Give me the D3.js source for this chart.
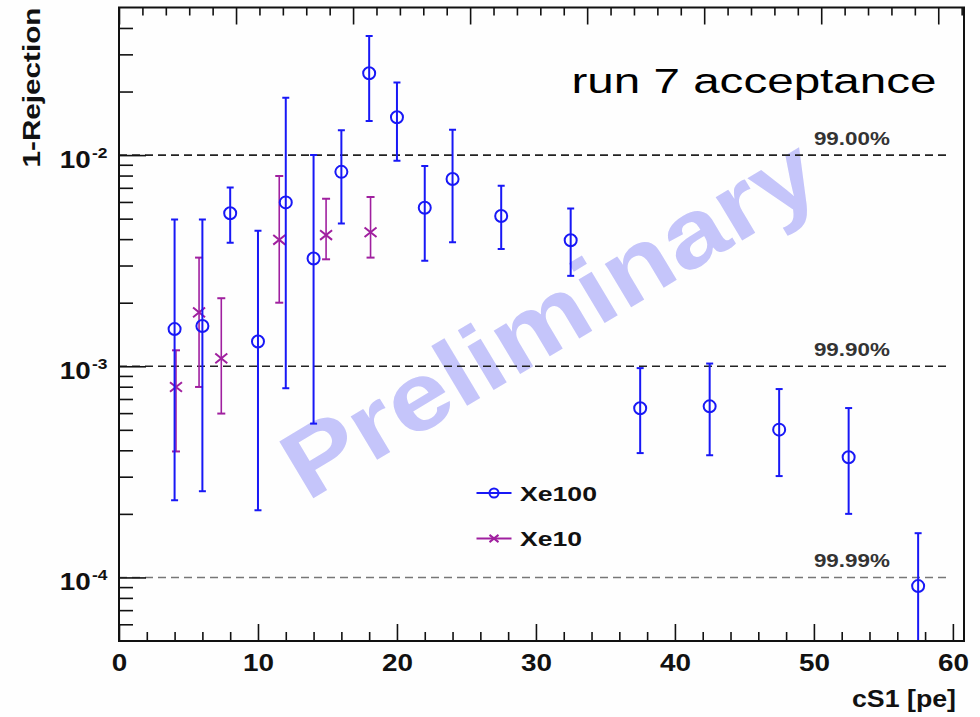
<!DOCTYPE html>
<html>
<head>
<meta charset="utf-8">
<script src="https://cdn.jsdelivr.net/npm/d3@7"></script>
<style>
  html, body { margin: 0; padding: 0; background: #fefefe; }
  svg { display: block; }
  text { font-family: "Liberation Sans", Arial, Helvetica, sans-serif; }
</style>
</head>
<body>
<svg id="chart" width="980" height="717"></svg>
<script>
// ---- data ----------------------------------------------------------------
// Xe100: cS1 bin centres, rate (1 - rejection), and asymmetric error limits
const xe100X  = [4, 6, 8, 10, 12, 14, 16, 18, 20, 22, 24, 27.5, 32.5, 37.5, 42.5, 47.5, 52.5, 57.5];
const xe100Y  = [1.50e-3, 1.55e-3, 5.30e-3, 1.31e-3, 5.97e-3, 3.24e-3, 8.33e-3, 2.44e-2, 1.51e-2, 5.63e-3, 7.70e-3, 5.15e-3, 3.95e-3, 6.33e-4, 6.46e-4, 5.01e-4, 3.71e-4, 9.1e-5];
const xe100Hi = [4.96e-3, 4.96e-3, 7.03e-3, 4.38e-3, 1.87e-2, 1.00e-2, 1.31e-2, 3.66e-2, 2.21e-2, 8.87e-3, 1.32e-2, 7.16e-3, 5.58e-3, 9.8e-4, 1.03e-3, 7.8e-4, 6.34e-4, 1.62e-4];
const xe100Lo = [2.32e-4, 2.56e-4, 3.85e-3, 2.08e-4, 7.87e-4, 5.35e-4, 4.74e-3, 1.45e-2, 9.4e-3, 3.16e-3, 3.87e-3, 3.59e-3, 2.68e-3, 3.88e-4, 3.79e-4, 3.02e-4, 2.0e-4, 1e-5];

// Xe10 comparison points
const xe10X  = [4.1, 5.76, 7.36, 11.53, 14.9, 18.1];
const xe10Y  = [7.98e-4, 1.80e-3, 1.09e-3, 3.97e-3, 4.18e-3, 4.31e-3];
const xe10Hi = [1.19e-3, 3.27e-3, 2.10e-3, 7.97e-3, 6.21e-3, 6.34e-3];
const xe10Lo = [3.95e-4, 7.98e-4, 5.97e-4, 2.00e-3, 3.21e-3, 3.27e-3];

// rejection reference levels
const refLevels = [1e-2, 1e-3, 1e-4];
const refLabels = ["99.00%", "99.90%", "99.99%"];
const refColors = ["#222", "#222", "#777"];

// axis ticks
const xMajor = [0, 10, 20, 30, 40, 50, 60];
const xMinor = d3.range(2, 61, 2).filter(v => v % 10 !== 0);
const yMajor = [1e-4, 1e-3, 1e-2];
const yMajorExp = ["-4", "-3", "-2"];
const yMinor = [6e-5, 7e-5, 8e-5, 9e-5,
  2e-4, 3e-4, 4e-4, 5e-4, 6e-4, 7e-4, 8e-4, 9e-4,
  2e-3, 3e-3, 4e-3, 5e-3, 6e-3, 7e-3, 8e-3, 9e-3,
  2e-2, 3e-2, 4e-2];
const topMajor = [0, 10, 20, 30, 40, 50, 60, 70];
const topMinor = d3.range(2, 73, 2).filter(v => v % 10 !== 0);

const legendNames = ["Xe100", "Xe10"];

// ---- layout ----------------------------------------------------------------
const frame = { left: 119, right: 964, top: 7.5, bottom: 641 };
const BLUE = "#1818f6", MAGENTA = "#a0209f";
const STRETCH = 1.16;
const FONT = "Liberation Sans, Arial, Helvetica, sans-serif";

const svg = d3.select("#chart");
const x = d3.scaleLinear().domain([0, 60.8]).range([frame.left, frame.right]);
const y = d3.scaleLog().domain([5e-5, 0.05]).range([frame.bottom, frame.top]);
const xTop = d3.scaleLinear().domain([0, 72.2]).range([frame.left, frame.right]);

// widen text horizontally like the original canvas
function widen(sel, factor = STRETCH) {
  sel.each(function () {
    const len = this.getComputedTextLength();
    d3.select(this).attr("textLength", len * factor).attr("lengthAdjust", "spacingAndGlyphs");
  });
}

// ---- watermark ----------------------------------------------------------------
svg.append("text")
  .attr("transform", "translate(307,502) rotate(-31)")
  .attr("font-size", 96).attr("font-weight", "bold")
  .attr("fill", "#c5c5fa")
  .attr("textLength", 605).attr("lengthAdjust", "spacingAndGlyphs")
  .text("Preliminary");

// ---- reference lines ----------------------------------------------------------------
const refG = svg.append("g");
refLevels.forEach((v, i) => {
  refG.append("line")
    .attr("x1", x(0)).attr("x2", x(59.6))
    .attr("y1", y(v)).attr("y2", y(v))
    .attr("stroke", refColors[i]).attr("stroke-width", 1.6)
    .attr("stroke-dasharray", "8,5");
  refG.append("text")
    .attr("x", x(50)).attr("y", y(v) - 10)
    .attr("font-size", 19).attr("font-weight", "bold")
    .attr("fill", "#333")
    .attr("textLength", 76).attr("lengthAdjust", "spacingAndGlyphs")
    .text(refLabels[i]);
});

// ---- axes ----------------------------------------------------------------
function styleAxis(g) {
  g.select(".domain").remove();
  g.attr("font-family", FONT);
  g.selectAll(".tick line").attr("stroke", "#111").attr("stroke-width", 1.6);
}

// bottom
svg.append("g").attr("transform", `translate(0,${frame.bottom})`)
  .call(d3.axisBottom(x).tickValues(xMinor).tickSize(-9).tickFormat(""))
  .call(styleAxis);
const xAxisG = svg.append("g").attr("transform", `translate(0,${frame.bottom})`)
  .call(d3.axisBottom(x).tickValues(xMajor).tickSize(-17).tickFormat(d3.format("d")))
  .call(styleAxis);
xAxisG.selectAll(".tick text")
  .attr("y", 29.7).attr("dy", null)
  .attr("font-size", 24).attr("font-weight", "bold").attr("fill", "#111")
  .call(widen);

// top (unlabelled)
svg.append("g").attr("transform", `translate(0,${frame.top})`)
  .call(d3.axisTop(xTop).tickValues(topMinor).tickSize(-8).tickFormat(""))
  .call(styleAxis);
svg.append("g").attr("transform", `translate(0,${frame.top})`)
  .call(d3.axisTop(xTop).tickValues(topMajor).tickSize(-17).tickFormat(""))
  .call(styleAxis);

// left
svg.append("g").attr("transform", `translate(${frame.left},0)`)
  .call(d3.axisLeft(y).tickValues(yMinor).tickSize(-14).tickFormat(""))
  .call(styleAxis);
const yAxisG = svg.append("g").attr("transform", `translate(${frame.left},0)`)
  .call(d3.axisLeft(y).tickValues(yMajor).tickSize(-27).tickFormat(""))
  .call(styleAxis);
yAxisG.selectAll(".tick text").remove();
yAxisG.selectAll(".tick").each(function (d, i) {
  const t = d3.select(this);
  t.append("text")
    .attr("x", 90.7 - frame.left).attr("y", 12.5)
    .attr("text-anchor", "end")
    .attr("font-size", 24).attr("font-weight", "bold").attr("fill", "#111")
    .text("10").call(widen);
  t.append("text")
    .attr("x", 92 - frame.left).attr("y", 2)
    .attr("text-anchor", "start")
    .attr("font-size", 15).attr("font-weight", "bold").attr("fill", "#111")
    .text(yMajorExp[i]).call(widen);
});

// axis titles
svg.append("text")
  .attr("x", 956).attr("y", 707).attr("text-anchor", "end")
  .attr("font-size", 23).attr("font-weight", "bold").attr("fill", "#111")
  .attr("textLength", 104).attr("lengthAdjust", "spacingAndGlyphs")
  .text("cS1 [pe]");
svg.append("text")
  .attr("transform", "translate(39.5,7.5) rotate(-90)")
  .attr("text-anchor", "end")
  .attr("font-size", 24).attr("font-weight", "bold").attr("fill", "#111")
  .attr("textLength", 160).attr("lengthAdjust", "spacingAndGlyphs")
  .text("1-Rejection");

// ---- data marks ----------------------------------------------------------------
svg.append("clipPath").attr("id", "plotClip")
  .append("rect")
  .attr("x", frame.left).attr("y", frame.top)
  .attr("width", frame.right - frame.left).attr("height", frame.bottom - frame.top);

const plot = svg.append("g").attr("clip-path", "url(#plotClip)");

function drawSeries(xs, ys, lo, hi, color, width, cap, marker) {
  const g = plot.append("g").attr("stroke", color).attr("fill", "none");
  const data = xs.map((v, i) => ({ x: v, y: ys[i], lo: lo[i], hi: hi[i] }));
  const pts = g.selectAll("g").data(data).join("g");
  pts.append("line")
    .attr("x1", d => x(d.x)).attr("x2", d => x(d.x))
    .attr("y1", d => y(d.hi)).attr("y2", d => y(d.lo))
    .attr("stroke-width", width);
  [d => d.hi, d => d.lo].forEach(acc => {
    pts.append("line")
      .attr("x1", d => x(d.x) - cap).attr("x2", d => x(d.x) + cap)
      .attr("y1", d => y(acc(d))).attr("y2", d => y(acc(d)))
      .attr("stroke-width", 2);
  });
  pts.each(function (d) { marker(d3.select(this), x(d.x), y(d.y), 6); });
}

function circleMarker(g, cx, cy, r) {
  g.append("circle").attr("cx", cx).attr("cy", cy).attr("r", r)
    .attr("stroke-width", 2).attr("fill", "none");
}
function crossMarker(g, cx, cy, r) {
  g.append("path")
    .attr("d", `M${cx - r},${cy - r * 0.8}L${cx + r},${cy + r * 0.8}M${cx - r},${cy + r * 0.8}L${cx + r},${cy - r * 0.8}`)
    .attr("stroke-width", 2);
}

drawSeries(xe10X, xe10Y, xe10Lo, xe10Hi, MAGENTA, 1.6, 4, crossMarker);
drawSeries(xe100X, xe100Y, xe100Lo, xe100Hi, BLUE, 2, 3.5, circleMarker);

// ---- frame ----------------------------------------------------------------
svg.append("rect")
  .attr("x", frame.left).attr("y", frame.top)
  .attr("width", frame.right - frame.left).attr("height", frame.bottom - frame.top)
  .attr("fill", "none").attr("stroke", "#111").attr("stroke-width", 2);

// ---- legend ----------------------------------------------------------------
const legendColors = [BLUE, MAGENTA];
const legendMarkers = [circleMarker, crossMarker];
const legendTextLen = [77, 62];
legendNames.forEach((name, i) => {
  const ly = 493 + i * 45.5;
  const g = svg.append("g").attr("stroke", legendColors[i]).attr("fill", "none");
  g.append("line").attr("x1", 476.5).attr("x2", 511.5).attr("y1", ly).attr("y2", ly).attr("stroke-width", 2);
  legendMarkers[i](g, 494, ly, 4.5);
  svg.append("text")
    .attr("x", 520).attr("y", ly + 7.5)
    .attr("font-size", 21).attr("font-weight", "bold").attr("fill", "#111")
    .attr("textLength", legendTextLen[i]).attr("lengthAdjust", "spacingAndGlyphs")
    .text(name);
});

// ---- annotation ----------------------------------------------------------------
svg.append("text")
  .attr("x", 571.5).attr("y", 93)
  .attr("font-family", "DejaVu Sans, Verdana, sans-serif")
  .attr("font-size", 35.5).attr("fill", "#000")
  .attr("textLength", 365).attr("lengthAdjust", "spacingAndGlyphs")
  .text("run 7 acceptance");
</script>
</body>
</html>
